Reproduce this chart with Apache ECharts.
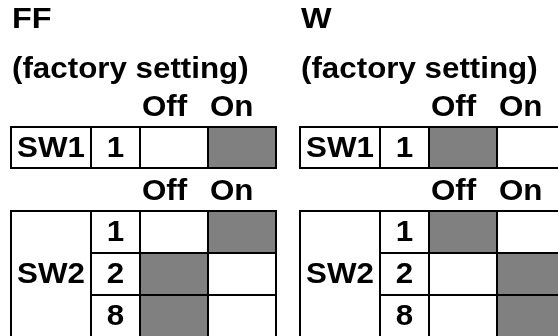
<!DOCTYPE html>
<html><head><meta charset="utf-8">
<script src="https://cdn.jsdelivr.net/npm/echarts@6/dist/echarts.min.js"></script>
<style>html,body{margin:0;padding:0;background:#fff}#c{width:558px;height:336px}</style>
</head><body><div id="c"></div>
<script>
// ---- data ----
const panelNames = ['FF', 'W'];
const panelSubtitle = '(factory setting)';
const stateLabels = ['Off', 'On'];
const switchNames = ['SW1', 'SW2'];
const sw1Positions = ['1'];
const sw2Positions = ['1', '2', '8'];
const ffSW1 = ['On'];
const ffSW2 = ['On', 'Off', 'Off'];
const wSW1 = ['Off'];
const wSW2 = ['Off', 'On', 'On'];

// ---- layout / style ----
const panelLeft = [11, 300];
const tableTop = [127, 211];
const rowH = [41, 42];
const colEdges = [0, 80, 129, 197, 265];
const FONT = 'bold 29px "Liberation Sans", Arial, sans-serif';
const SX = 1.08;
const GREY = '#808080';

const positionsBySwitch = [sw1Positions, sw2Positions];
const settings = [[ffSW1, ffSW2], [wSW1, wSW2]];

const grids = [], xAxes = [], yAxes = [], series = [];
panelNames.forEach((pn, p) => {
  switchNames.forEach((sw, t) => {
    const g = grids.length;
    const positions = positionsBySwitch[t];
    const setting = settings[p][t];
    grids.push({left: panelLeft[p], top: tableTop[t], width: colEdges[4], height: rowH[t] * positions.length,
      containLabel: false, outerBoundsMode: 'none'});
    xAxes.push({gridIndex: g, type: 'value', min: 0, max: colEdges[4], show: false});
    yAxes.push({gridIndex: g, type: 'category', data: positions, inverse: true, show: false});
    const data = [];
    data.push([0, 0, 0, 0]);
    positions.forEach((pos, r) => {
      data.push([1, r, 0, 0]);
      stateLabels.forEach((s, c) => data.push([2, r, c, setting[r] === s ? 1 : 0]));
    });
    stateLabels.forEach((s, c) => data.push([3, 0, c, 0]));
    series.push({
      type: 'custom', xAxisIndex: g, yAxisIndex: g, encode: {x: 2, y: 1},
      data: data, silent: true, clip: false,
      renderItem: function (params, api) {
        const kind = api.value(0), row = api.value(1), col = api.value(2), filled = api.value(3);
        const n = positions.length;
        const bandH = api.size([0, 1])[1];
        const xAt = e => api.coord([colEdges[e], row])[0];
        const yc = api.coord([0, row])[1];
        const top = api.coord([0, 0])[1] - bandH / 2;
        const bottom = api.coord([0, n - 1])[1] + bandH / 2;
        const lineStyle = {stroke: '#000', lineWidth: 2};
        const txt = (s, x, y, align) => ({type: 'text', x: x, y: y, scaleX: SX,
          style: {text: s, x: 0, y: 0, font: FONT, fill: '#000', align: align || 'center', verticalAlign: 'middle'}});
        if (kind === 0) {
          const x0 = xAt(0), x1 = xAt(1);
          return {type: 'group', children: [
            {type: 'rect', shape: {x: x0, y: top, width: x1 - x0, height: bottom - top}, style: Object.assign({fill: '#fff'}, lineStyle)},
            txt(sw, (x0 + x1) / 2, (top + bottom) / 2 + 1)
          ]};
        } else if (kind === 1) {
          const x0 = xAt(1), x1 = xAt(2);
          return {type: 'group', children: [
            {type: 'rect', shape: {x: x0, y: yc - bandH / 2, width: x1 - x0, height: bandH}, style: Object.assign({fill: '#fff'}, lineStyle)},
            txt(positions[row], (x0 + x1) / 2, yc + 1)
          ]};
        } else if (kind === 2) {
          const x0 = xAt(2 + col), x1 = xAt(3 + col);
          return {type: 'rect', shape: {x: x0, y: yc - bandH / 2, width: x1 - x0, height: bandH},
            style: Object.assign({fill: filled ? GREY : '#fff'}, lineStyle)};
        } else {
          return txt(stateLabels[col], xAt(2 + col) + 2, top - 19, 'left');
        }
      }
    });
  });
});

const graphics = [];
panelNames.forEach((pn, p) => {
  graphics.push({type: 'text', x: panelLeft[p] + 1, y: 20, scaleX: SX, style: {text: pn, font: 'bold 30px "Liberation Sans", Arial, sans-serif', fill: '#000', textAlign: 'left', textVerticalAlign: 'middle'}});
  graphics.push({type: 'text', x: panelLeft[p] + 1, y: 70, scaleX: SX, style: {text: panelSubtitle, font: 'bold 29px "Liberation Sans", Arial, sans-serif', fill: '#000', textAlign: 'left', textVerticalAlign: 'middle'}});
});

const chart = echarts.init(document.getElementById('c'), null, {renderer: 'canvas'});
chart.setOption({
  animation: false,
  backgroundColor: '#fff',
  grid: grids, xAxis: xAxes, yAxis: yAxes, series: series,
  graphic: graphics
});
</script></body></html>
